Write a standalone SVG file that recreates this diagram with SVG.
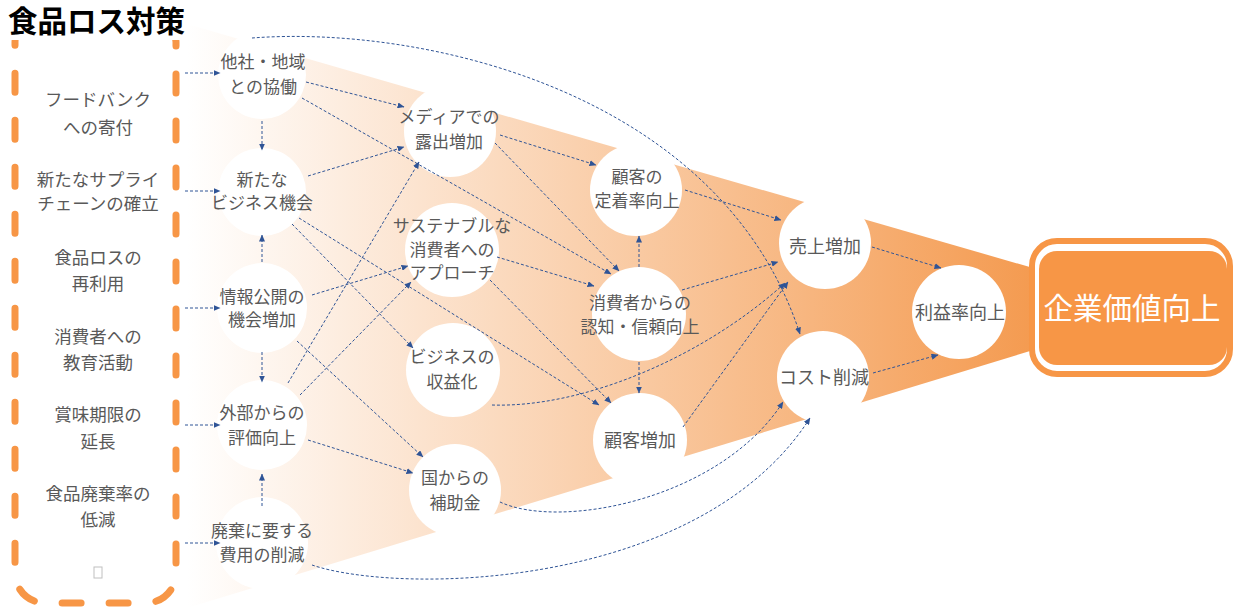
<svg xmlns="http://www.w3.org/2000/svg" width="1234" height="609" viewBox="0 0 1234 609">
<defs>
<linearGradient id="funnelGrad" gradientUnits="userSpaceOnUse" x1="187" y1="0" x2="1040" y2="0">
<stop offset="0" stop-color="#ffffff"/>
<stop offset="1" stop-color="#f49a4f"/>
</linearGradient>
<marker id="arr" markerUnits="userSpaceOnUse" markerWidth="7" markerHeight="6" refX="6.5" refY="3" orient="auto">
<path d="M0,0 L7,3 L0,6 z" fill="#2f5496"/>
</marker>
<style>
.t{font-family:"Noto Sans CJK JP","Noto Sans",sans-serif;font-size:17px;fill:#595959;text-anchor:middle}
.lt{font-family:"Noto Sans CJK JP","Noto Sans",sans-serif;font-size:17.5px;fill:#595959;text-anchor:middle}
.big{font-size:18px}
.node circle{fill:#ffffff}
.c{fill:none;stroke:#2f5496;stroke-width:1;stroke-dasharray:3 2;marker-end:url(#arr)}
</style>
</defs>
<rect width="1234" height="609" fill="#ffffff"/>
<polygon points="187,24 1040,270 1040,348 187,608" fill="url(#funnelGrad)"/>
<g id="policy-box">
<rect x="15" y="12" width="161" height="591" rx="30" fill="none" stroke="#f79646" stroke-width="7" stroke-dasharray="19 28" stroke-dashoffset="8" stroke-linecap="round"/>
<rect x="0" y="0" width="186" height="40" fill="#ffffff"/>
<text x="8" y="32" style="font-family:'Noto Sans CJK JP','Noto Sans',sans-serif;font-size:29.5px;font-weight:bold;fill:#000000">食品ロス対策</text>
<text class="lt" x="98" y="106">フードバンク</text>
<text class="lt" x="98" y="134">への寄付</text>
<text class="lt" x="98" y="186">新たなサプライ</text>
<text class="lt" x="98" y="210">チェーンの確立</text>
<text class="lt" x="98" y="264">食品ロスの</text>
<text class="lt" x="98" y="290">再利用</text>
<text class="lt" x="98" y="343">消費者への</text>
<text class="lt" x="98" y="369">教育活動</text>
<text class="lt" x="98" y="421">賞味期限の</text>
<text class="lt" x="98" y="448">延長</text>
<text class="lt" x="98" y="500">食品廃棄率の</text>
<text class="lt" x="98" y="526">低減</text>
<rect x="94" y="567" width="8" height="11" fill="none" stroke="#c0c0c0" stroke-width="1"/>
</g>
<g id="n-kyodo" class="node"><circle cx="262" cy="75" r="44"/><text class="t" x="263" y="68">他社・地域</text><text class="t" x="263" y="93">との協働</text></g>
<g id="n-business" class="node"><circle cx="262" cy="192" r="44"/><text class="t" x="262" y="186">新たな</text><text class="t" x="262" y="209">ビジネス機会</text></g>
<g id="n-kokai" class="node"><circle cx="262" cy="308" r="45"/><text class="t" x="262" y="303">情報公開の</text><text class="t" x="262" y="326">機会増加</text></g>
<g id="n-hyoka" class="node"><circle cx="262" cy="425" r="45"/><text class="t" x="262" y="419">外部からの</text><text class="t" x="262" y="444">評価向上</text></g>
<g id="n-haiki" class="node"><circle cx="262" cy="543" r="46"/><text class="t" x="262" y="537">廃棄に要する</text><text class="t" x="262" y="561">費用の削減</text></g>
<g id="n-media" class="node"><circle cx="450" cy="131" r="46"/><text class="t" x="449" y="123">メディアでの</text><text class="t" x="449" y="148">露出増加</text></g>
<g id="n-sustain" class="node"><circle cx="452" cy="250" r="47"/><text class="t" x="452" y="232">サステナブルな</text><text class="t" x="452" y="256">消費者への</text><text class="t" x="452" y="279">アプローチ</text></g>
<g id="n-shueki" class="node"><circle cx="453" cy="370" r="47"/><text class="t" x="452" y="363">ビジネスの</text><text class="t" x="452" y="388">収益化</text></g>
<g id="n-hojo" class="node"><circle cx="455" cy="490" r="46"/><text class="t" x="455" y="484">国からの</text><text class="t" x="455" y="509">補助金</text></g>
<g id="n-teichaku" class="node"><circle cx="636" cy="190" r="46"/><text class="t" x="637" y="183">顧客の</text><text class="t" x="637" y="207">定着率向上</text></g>
<g id="n-ninchi" class="node"><circle cx="639" cy="314" r="47"/><text class="t" x="640" y="309">消費者からの</text><text class="t" x="640" y="333">認知・信頼向上</text></g>
<g id="n-kokyaku" class="node"><circle cx="640" cy="440" r="47"/><text class="t big" x="640" y="447">顧客増加</text></g>
<g id="n-uriage" class="node"><circle cx="825" cy="243" r="46"/><text class="t big" x="825" y="253">売上増加</text></g>
<g id="n-cost" class="node"><circle cx="823" cy="377" r="46"/><text class="t big" x="824" y="384">コスト削減</text></g>
<g id="n-rieki" class="node"><circle cx="959" cy="312" r="47"/><text class="t big" x="960" y="319">利益率向上</text></g>
<g id="n-kigyo">
<rect x="1032" y="241" width="198" height="133" rx="25" fill="#ffffff" stroke="#f79646" stroke-width="6"/>
<rect x="1039" y="251" width="188" height="114" rx="18" fill="#f79646"/>
<text x="1132" y="319" style="font-family:'Noto Sans CJK JP','Noto Sans',sans-serif;font-size:29.5px;fill:#ffffff;text-anchor:middle">企業価値向上</text>
</g>
<g id="connectors">
<path class="c" d="M185,73 L220,73"/>
<path class="c" d="M185,191 L220,191"/>
<path class="c" d="M185,308 L220,308"/>
<path class="c" d="M185,425 L220,425"/>
<path class="c" d="M185,543 L220,543"/>
<path class="c" d="M262,121 L262,150"/>
<path class="c" d="M262,262 L262,235"/>
<path class="c" d="M262,352 L262,382"/>
<path class="c" d="M262,506 L262,474"/>
<path class="c" d="M306,82 L404,107"/>
<path class="c" d="M302,98 L611,274"/>
<path class="c" d="M308,176 L404,147"/>
<path class="c" d="M292,224 L413,348"/>
<path class="c" d="M299,218 L599,405"/>
<path class="c" d="M312,295 L408,266"/>
<path class="c" d="M297,341 L423,457"/>
<path class="c" d="M288,383 L419,162"/>
<path class="c" d="M300,395 L411,282"/>
<path class="c" d="M308,440 L413,473"/>
<path class="c" d="M500,135 L596,165"/>
<path class="c" d="M495,143 L619,271"/>
<path class="c" d="M497,257 L594,286"/>
<path class="c" d="M490,280 L611,403"/>
<path class="c" d="M639,267 L639,236"/>
<path class="c" d="M639,362 L639,393"/>
<path class="c" d="M685,190 L781,220"/>
<path class="c" d="M682,290 L778,262"/>
<path class="c" d="M683,427 L788,282"/>
<path class="c" d="M492,405 C580,408 700,360 785,283"/>
<path class="c" d="M872,247 L941,268"/>
<path class="c" d="M873,373 L938,355"/>
<path class="c" d="M252,38 C420,25 720,90 800,334"/>
<path class="c" d="M500,502 C560,530 720,500 783,402"/>
<path class="c" d="M312,565 C400,595 700,590 810,418"/>
</g>
</svg>
